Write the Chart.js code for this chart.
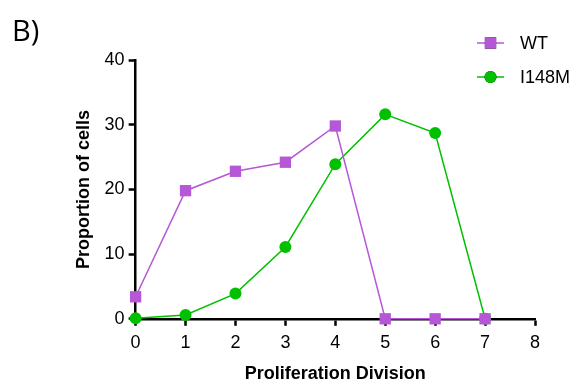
<!DOCTYPE html>
<html>
<head>
<meta charset="utf-8">
<script src="https://cdn.jsdelivr.net/npm/chart.js@4"></script>
<style>
  html, body { margin: 0; padding: 0; background: #fff; }
  #wrap { width: 580px; height: 385px; position: relative; }
</style>
</head>
<body>
<div id="wrap"><canvas id="chart" width="580" height="385"></canvas></div>
<script>
// data
const divisions = [0, 1, 2, 3, 4, 5, 6, 7];
const wtValues = [3.4, 19.8, 22.8, 24.2, 29.8, 0, 0, 0];
const i148mValues = [0.1, 0.6, 3.9, 11.1, 23.9, 31.6, 28.7, 0];
const seriesNames = ['WT', 'I148M'];
const yTicks = [0, 10, 20, 30, 40];

const FONT = '"Liberation Sans", Arial, sans-serif';
const PURPLE = '#B657D8';
const GREEN = '#00C000';

// panel letter + legend drawn by hand (line with marker, like the original)
const extras = {
  id: 'extras',
  afterDraw(chart) {
    const ctx = chart.ctx;
    ctx.save();
    ctx.fillStyle = '#000';
    ctx.font = '29px "Open Sans", "DejaVu Sans", sans-serif';
    ctx.textBaseline = 'alphabetic';
    ctx.fillText('B)', 12, 41);

    const rows = [43, 77];
    chart.data.datasets.forEach((ds, i) => {
      const y = rows[i];
      ctx.strokeStyle = ds.borderColor;
      ctx.lineWidth = 1.5;
      ctx.beginPath();
      ctx.moveTo(477, y);
      ctx.lineTo(504, y);
      ctx.stroke();
      Chart.helpers.drawPoint(ctx, {
        pointStyle: ds.pointStyle,
        radius: ds.pointRadius,
        borderWidth: 0
      }, 490.5, y);
      ctx.fillStyle = ds.pointBackgroundColor;
      ctx.fill();
      ctx.fillStyle = '#000';
      ctx.font = '18px ' + FONT;
      ctx.textBaseline = 'middle';
      ctx.fillText(ds.label, 520, y + 1);
    });
    ctx.restore();
  }
};

function mkSeries(label, values, color, style, r) {
  return {
    label: label,
    data: divisions.map((d, i) => ({ x: d, y: values[i] })),
    borderColor: color,
    backgroundColor: color,
    pointBackgroundColor: color,
    pointBorderColor: color,
    pointBorderWidth: 0,
    pointStyle: style,
    pointRadius: r,
    pointHoverRadius: r,
    borderWidth: 1.5,
    tension: 0,
    clip: false
  };
}

new Chart(document.getElementById('chart'), {
  type: 'line',
  data: {
    datasets: [
      mkSeries(seriesNames[0], wtValues, PURPLE, 'rect', 8),
      mkSeries(seriesNames[1], i148mValues, GREEN, 'circle', 6)
    ]
  },
  options: {
    responsive: false,
    animation: false,
    layout: { padding: { top: 60, right: 45, left: 69, bottom: 0 } },
    plugins: { legend: { display: false }, tooltip: { enabled: false } },
    scales: {
      x: {
        type: 'linear',
        min: 0, max: 8,
        ticks: { stepSize: 1, color: '#000', font: { family: FONT, size: 18 }, padding: 6, maxRotation: 0 },
        grid: { drawOnChartArea: false, drawTicks: true, tickLength: 7, tickWidth: 2.5, color: '#000' },
        border: { color: '#000', width: 2.5 },
        title: { display: true, text: 'Proliferation Division', color: '#000', font: { family: FONT, size: 18, weight: 'bold' }, padding: { top: 4, bottom: 0 } }
      },
      y: {
        min: 0, max: 40,
        afterBuildTicks(scale) { scale.ticks = yTicks.map(v => ({ value: v })); },
        ticks: { color: '#000', font: { family: FONT, size: 18 }, padding: 4 },
        grid: { drawOnChartArea: false, drawTicks: true, tickLength: 7, tickWidth: 2.5, color: '#000' },
        border: { color: '#000', width: 2.5 },
        title: { display: true, text: 'Proportion of cells', color: '#000', font: { family: FONT, size: 18, weight: 'bold' }, padding: { bottom: 6 } }
      }
    }
  },
  plugins: [extras]
});
</script>
</body>
</html>
